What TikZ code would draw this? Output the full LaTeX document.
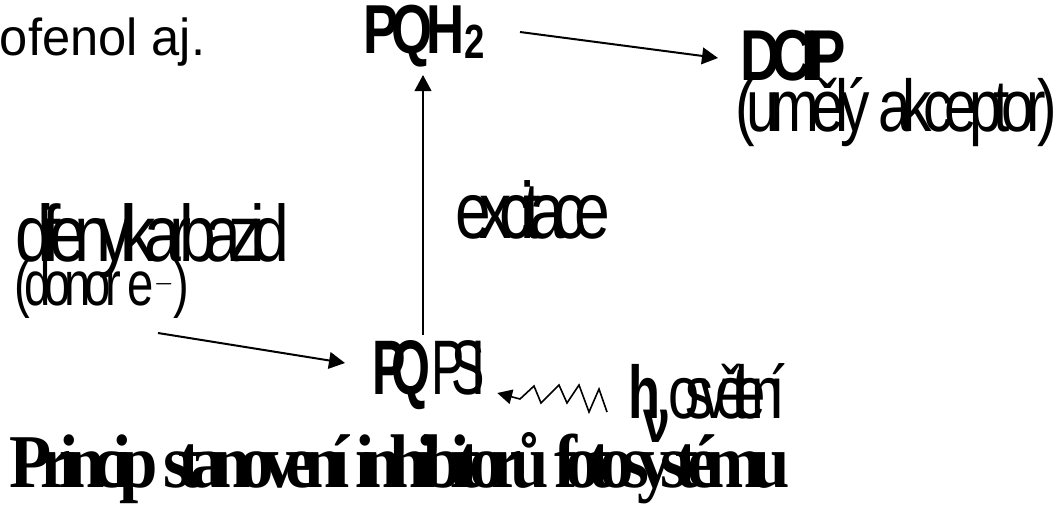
\documentclass[tikz,border=0pt]{standalone}
\usepackage{fontspec}
\setmainfont{Liberation Sans}
\newfontfamily\titlefont{Liberation Serif}
\usetikzlibrary{arrows.meta,calc}
\newcommand\sqz[2]{\resizebox{#1pt}{\height}{#2}}
\newcommand\fsz[1]{\fontsize{#1}{#1}\selectfont}
\newcommand\trk[1]{\addfontfeatures{LetterSpace=#1}}
\begin{document}
\begin{tikzpicture}[x=0.75pt,y=-0.75pt,
  lbl/.style={inner sep=0pt, outer sep=0pt, anchor=base west},
  arr/.style={line width=1.5pt, -{Triangle[length=12pt,width=12.5pt]}},
  wavearr/.style={line width=1.2pt, line join=miter, -{Triangle[length=11pt,width=11pt]}},
  ]
\useasboundingbox (0,0) rectangle (1062,504);
% texts
\node[lbl] (ofenol) at (0,55) {\sqz{154}{\fsz{39}ofenol aj.}};
\node[lbl] (pqh) at (363,53) {\sqz{91.5}{\fsz{52}\bfseries\trk{-12}PQH\raisebox{-3.75pt}{\fsz{36}\bfseries 2}}};
\node[lbl] (dcip) at (740,80) {\sqz{79}{\fsz{54}\bfseries\trk{-17}DCIP}};
\node[lbl] (akc) at (735,131) {\sqz{241.5}{\fsz{55}\trk{-14}(umělý akceptor)}};
\node[lbl] (dfk) at (15,261) {\sqz{206}{\fsz{60}\trk{-18}difenylkarbazid}};
\node[lbl] (donor) at (15,305) {\sqz{131}{\fsz{47}\trk{-13}(donor e$^{-}$)}};
\node[lbl] (exc) at (455,238) {\sqz{116}{\fsz{60}\trk{-18}excitace}};
\node[lbl] (pqpsii) at (372,394) {\sqz{85}{\fsz{58}\trk{-27}{\bfseries\trk{-27}PQ} PSII}};
\node[lbl] (hh) at (628,418) {\sqz{24}{\fsz{56}\bfseries h}};
\node[lbl] (nu) at (643,442) {\sqz{20}{\fsz{46}\bfseries ν}};
\node[lbl] (osv) at (668,418) {\sqz{88}{\fsz{56}\trk{-24}osvětlení}};
\node[lbl] (title) at (10,487) {\sqz{585}{\titlefont\fsz{57}\bfseries\trk{-17}Princip stanovení inhibitorů fotosystému}};
% connectors
\draw[arr] ($(pqh.base east)+(35,-21)$) -- ($(dcip.base west)+(-22,-22)$);
\draw[arr] ($(pqpsii.base west)+(51,-59)$) -- ($(pqh.base west)+(60,22)$);
\draw[arr] ($(donor.base west)+(143,28)$) -- ($(pqpsii.base west)+(-27,-31)$);
\draw[wavearr] ($(hh.base west)+(-21,-6)$) -- (599,389) -- (589,412) -- (579,385) -- (567,403)
  -- (559,385) -- (541,403) -- (534,386) -- (520,399) -- ($(pqpsii.base east)+(12,-1)$);
\end{tikzpicture}
\end{document}
